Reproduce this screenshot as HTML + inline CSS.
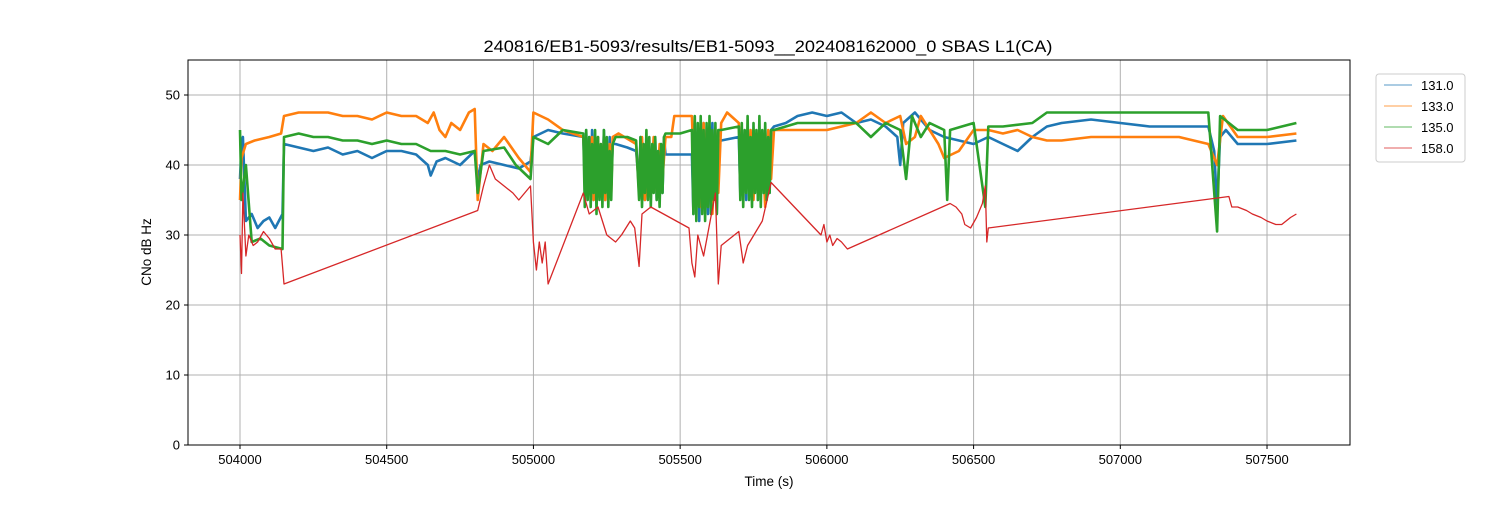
<!DOCTYPE html>
<html><head><meta charset="utf-8"><style>
body{margin:0;background:#fff;}
svg text{font-family:"Liberation Sans","DejaVu Sans",sans-serif;fill:#000;}
</style></head><body>
<svg id="chart" width="1500" height="500" xmlns="http://www.w3.org/2000/svg">
<rect width="1500" height="500" fill="#fff"/>
<text x="768" y="52" font-size="16.7" text-anchor="middle" textLength="569" lengthAdjust="spacingAndGlyphs">240816/EB1-5093/results/EB1-5093__202408162000_0 SBAS L1(CA)</text>
<g id="grid"></g>
<g id="series"></g>
<rect x="188" y="60" width="1162" height="385" fill="none" stroke="#000" stroke-width="1"/>
<g id="ticks"></g>
<text x="769" y="486" font-size="13.5" text-anchor="middle">Time (s)</text>
<text transform="translate(151,252) rotate(-90)" font-size="13.5" text-anchor="middle">CNo dB Hz</text>
<g id="legend"></g>
</svg>
<script>
const xTicks=[504000,504500,505000,505500,506000,506500,507000,507500];
const yTicks=[0,10,20,30,40,50];
const seriesNames=["131.0","133.0","135.0","158.0"];
const seriesColors=["#1f77b4","#ff7f0e","#2ca02c","#d62728"];

const t131=[504000,504005,504010,504020,504040,504060,504080,504100,504120,504145,504150,504200,504250,504300,504350,504400,504450,504500,504550,504600,504640,504650,504670,504700,504750,504800,504810,504820,504850,504900,504950,504990,505000,505050,505100,505170,
505175,505180,505185,505190,505195,505200,505205,505210,505215,505220,505225,505230,505235,505240,505245,505250,505255,505260,505265,505270,
505280,505320,505350,505360,505365,505370,505375,505380,505385,505390,505395,505400,505405,505410,505415,505420,505425,505430,505435,505440,505445,505450,505500,505540,
505545,505550,505555,505560,505565,505570,505575,505580,505585,505590,505595,505600,505605,505610,505615,505620,505625,505630,505640,505700,
505705,505710,505715,505720,505725,505730,505735,505740,505745,505750,505755,505760,505765,505770,505775,505780,505785,505790,505795,505800,505805,505810,
505820,505860,505900,505950,506000,506050,506100,506150,506200,506240,506250,506260,506300,506350,506400,506450,506500,506550,506600,506650,506700,506750,506800,506900,507000,507100,507200,507300,507320,507330,507340,507360,507400,507450,507500,507600];
const v131=[38,43,44,32,33,31,32,32.5,31,33,43,42.5,42,42.5,41.5,42,41,42,42,41.5,40,38.5,40.5,41,40,42,38,40,40.5,40,39.5,40.5,44,45,44.5,44,
38,45,36,44,37,45,35,43,38,44,36,42,37,45,35,43,36,44,37,43,
43,42.5,42,37,44,36,43,35,44,38,42,36,43,37,44,35,42,38,43,36,44,41.5,41.5,41.5,
33,46,35,45,32,44,36,46,34,45,33,44,37,46,35,44,33,43.5,43.5,44,
36,45,37,44,35,45,38,44,36,45,37,43,35,45,38,44,36,45,37,44,36,45,
45.5,46,47,47.5,47,47.5,46,46.5,45.5,44,40,46,47.5,45,44,43.5,43,44,43,42,44,45.5,46,46.5,46,45.5,45.5,45.5,42,34,44,45,43,43,43,43.5];

const t133=[504000,504005,504020,504050,504100,504140,504150,504200,504250,504300,504350,504400,504450,504500,504550,504600,504640,504660,504680,504700,504720,504750,504780,504800,504810,504830,504860,504900,504950,504990,505000,505050,505100,505170,
505175,505180,505185,505190,505195,505200,505205,505210,505215,505220,505225,505230,505235,505240,505245,505250,505255,505260,505265,505270,
505290,505330,505350,505360,505370,505380,505390,505400,505410,505420,505430,505440,505450,505470,505480,505540,
505550,505560,505570,505580,505590,505600,505610,505620,505630,505640,505660,505700,
505710,505720,505730,505740,505750,505760,505770,505780,505790,505800,505810,
505820,505900,506000,506100,506150,506200,506250,506270,506300,506320,506380,506400,506450,506500,506550,506600,506650,506700,506750,506800,506900,507000,507100,507200,507300,507330,507350,507400,507500,507600];
const v133=[35,41,43,43.5,44,44.5,47,47.5,47.5,47.5,47,47,46.5,47.5,47,47,46,47.5,45,44,46,45,47.5,48,35,43,42,44,41,39,47.5,46.5,45,44,
40,44,36,43,38,44,35,42,37,44,36,43,38,44,35,42,37,43,36,44,
44.5,43.5,43,36,44,35,43,37,44,36,43,38,44,44,47,47,
36,45,34,46,37,44,33,45,36,46,47.5,46,
36,44,38,45,35,44,37,43,34,45,38,
45,45,45,46,47.5,46,47,43,44,47,43,41,42,45,45,44.5,45,44,43.5,43.5,44,44,44,44,43,40,47,44,44,44.5];

const t135=[504000,504005,504020,504040,504070,504100,504145,504150,504200,504250,504300,504350,504400,504450,504500,504550,504600,504650,504700,504750,504800,504810,504830,504900,504940,504990,505000,505050,505100,505170,
505175,505180,505185,505190,505195,505200,505205,505210,505215,505220,505225,505230,505235,505240,505245,505250,505255,505260,505265,505270,
505280,505320,505350,505360,505365,505370,505375,505380,505385,505390,505395,505400,505405,505410,505415,505420,505425,505430,505435,505440,505445,505450,505500,505540,
505545,505550,505555,505560,505565,505570,505575,505580,505585,505590,505595,505600,505605,505610,505615,505620,505625,505630,505640,505700,
505705,505710,505715,505720,505725,505730,505735,505740,505745,505750,505755,505760,505765,505770,505775,505780,505785,505790,505795,505800,505805,505810,
505820,505900,506000,506100,506150,506200,506250,506270,506290,506320,506350,506400,506410,506420,506500,506540,506550,506600,506700,506750,506800,506900,507000,507100,507200,507300,507330,507340,507400,507500,507600];
const v135=[45,35,40,29,29.5,28.5,28,44,44.5,44,44,43.5,43.5,43,43.5,43,43,42,42,41.5,42,36,42,42.5,40,38,44,43,45,44.5,
34,45,35,44,34,43,36,45,33,44,35,43,34,45,36,44,34,42,35,43,
44,44,43.5,35,44,34,43,36,45,35,44,34,43,36,44,35,42,34,43,36,44,44.5,44.5,45,
33,47,32,46,34,47,33,45,32,46,34,47,33,45,35,46,33,45,45,45.5,
35,46,34,45,36,47,35,44,34,46,36,45,35,47,34,45,36,46,35,44,36,45,
45,46,46,46,44,46,45,38,47,44,46,45,35,45,46,34,45.5,45.5,46,47.5,47.5,47.5,47.5,47.5,47.5,47.5,30.5,47,45,45,46];

const t158=[504000,504005,504010,504020,504030,504045,504060,504080,504100,504120,504140,504150,504810,504830,504850,504870,504900,504930,504950,504990,505000,505010,505020,505030,505040,505050,505170,505190,505220,505250,505280,505300,505330,505345,505360,505370,505400,505530,505540,505550,505560,505580,505620,505630,505640,505700,505715,505730,505780,505810,505980,505990,506000,506010,506020,506035,506050,506070,506420,506440,506460,506470,506490,506510,506530,506540,506545,506550,507370,507380,507400,507430,507450,507480,507500,507530,507550,507580,507600];
const v158=[30,24.5,36,27,30,28.5,29,30.5,29.5,28,28,23,33.5,37,40,38,37,36,35,37,29,25,29,26,29,23,36,33,34,30,29,30,32,31,25.5,33,34,31,26,24,30,27,36,23,28.5,30.5,26,28.5,32,37.5,30,31.5,29,30,28.5,29.5,29,28,34.5,34,33,31.5,31,32.5,34.5,37,29,31,35.5,34,34,33.5,33,32.5,32,31.5,31.5,32.5,33];

const allT=[t131,t133,t135,t158], allV=[v131,v133,v135,v158];
const X0=188,X1=1350,Y0=445,Y1=60,xmin=503822.8,xmax=507782.8,ymin=0,ymax=55;
const xs=t=>X0+(t-xmin)/(xmax-xmin)*(X1-X0);
const ys=v=>Y0-(v-ymin)/(ymax-ymin)*(Y0-Y1);
const NS="http://www.w3.org/2000/svg";
function mk(tag,attrs,parent){const e=document.createElementNS(NS,tag);for(const k in attrs)e.setAttribute(k,attrs[k]);parent.appendChild(e);return e;}
const grid=document.getElementById('grid'),ticks=document.getElementById('ticks');
xTicks.forEach(t=>{const x=xs(t);
 const g=mk('line',{x1:x,x2:x,y1:Y1,y2:Y0,stroke:'#b0b0b0','stroke-width':1},grid);
 
 
 mk('line',{x1:x,x2:x,y1:Y0,y2:Y0+4,stroke:'#000'},ticks);
 const l=mk('text',{x:x,y:Y0+19,'font-size':13,'text-anchor':'middle'},ticks);l.textContent=t;
 
 });
yTicks.forEach(v=>{const y=ys(v);
 const g=mk('line',{x1:X0,x2:X1,y1:y,y2:y,stroke:'#b0b0b0','stroke-width':1},grid);
 
 
 mk('line',{x1:X0-4,x2:X0,y1:y,y2:y,stroke:'#000'},ticks);
 const l=mk('text',{x:X0-8,y:y+4.5,'font-size':13,'text-anchor':'end'},ticks);l.textContent=v;
 
 });
const sg=document.getElementById('series');
allT.forEach((ts,i)=>{const pts=ts.map((t,j)=>xs(t).toFixed(1)+','+ys(allV[i][j]).toFixed(1)).join(' ');
 const p=mk('polyline',{points:pts,fill:'none',stroke:seriesColors[i],'stroke-width':i==3?1.3:2.6,'stroke-linejoin':'round'},sg);
 
 });
const lg=document.getElementById('legend');
mk('rect',{x:1376,y:74,width:89,height:88,rx:3,fill:'#fff',stroke:'#ccc'},lg);
seriesNames.forEach((n,i)=>{const y=85+i*21;
 const ln=mk('line',{x1:1384,x2:1412,y1:y,y2:y,stroke:seriesColors[i],'stroke-width':0.8},lg);
 
 
 const tx=mk('text',{x:1421,y:y+5,'font-size':13},lg);tx.textContent=n;
 
 });
</script>
</body></html>
